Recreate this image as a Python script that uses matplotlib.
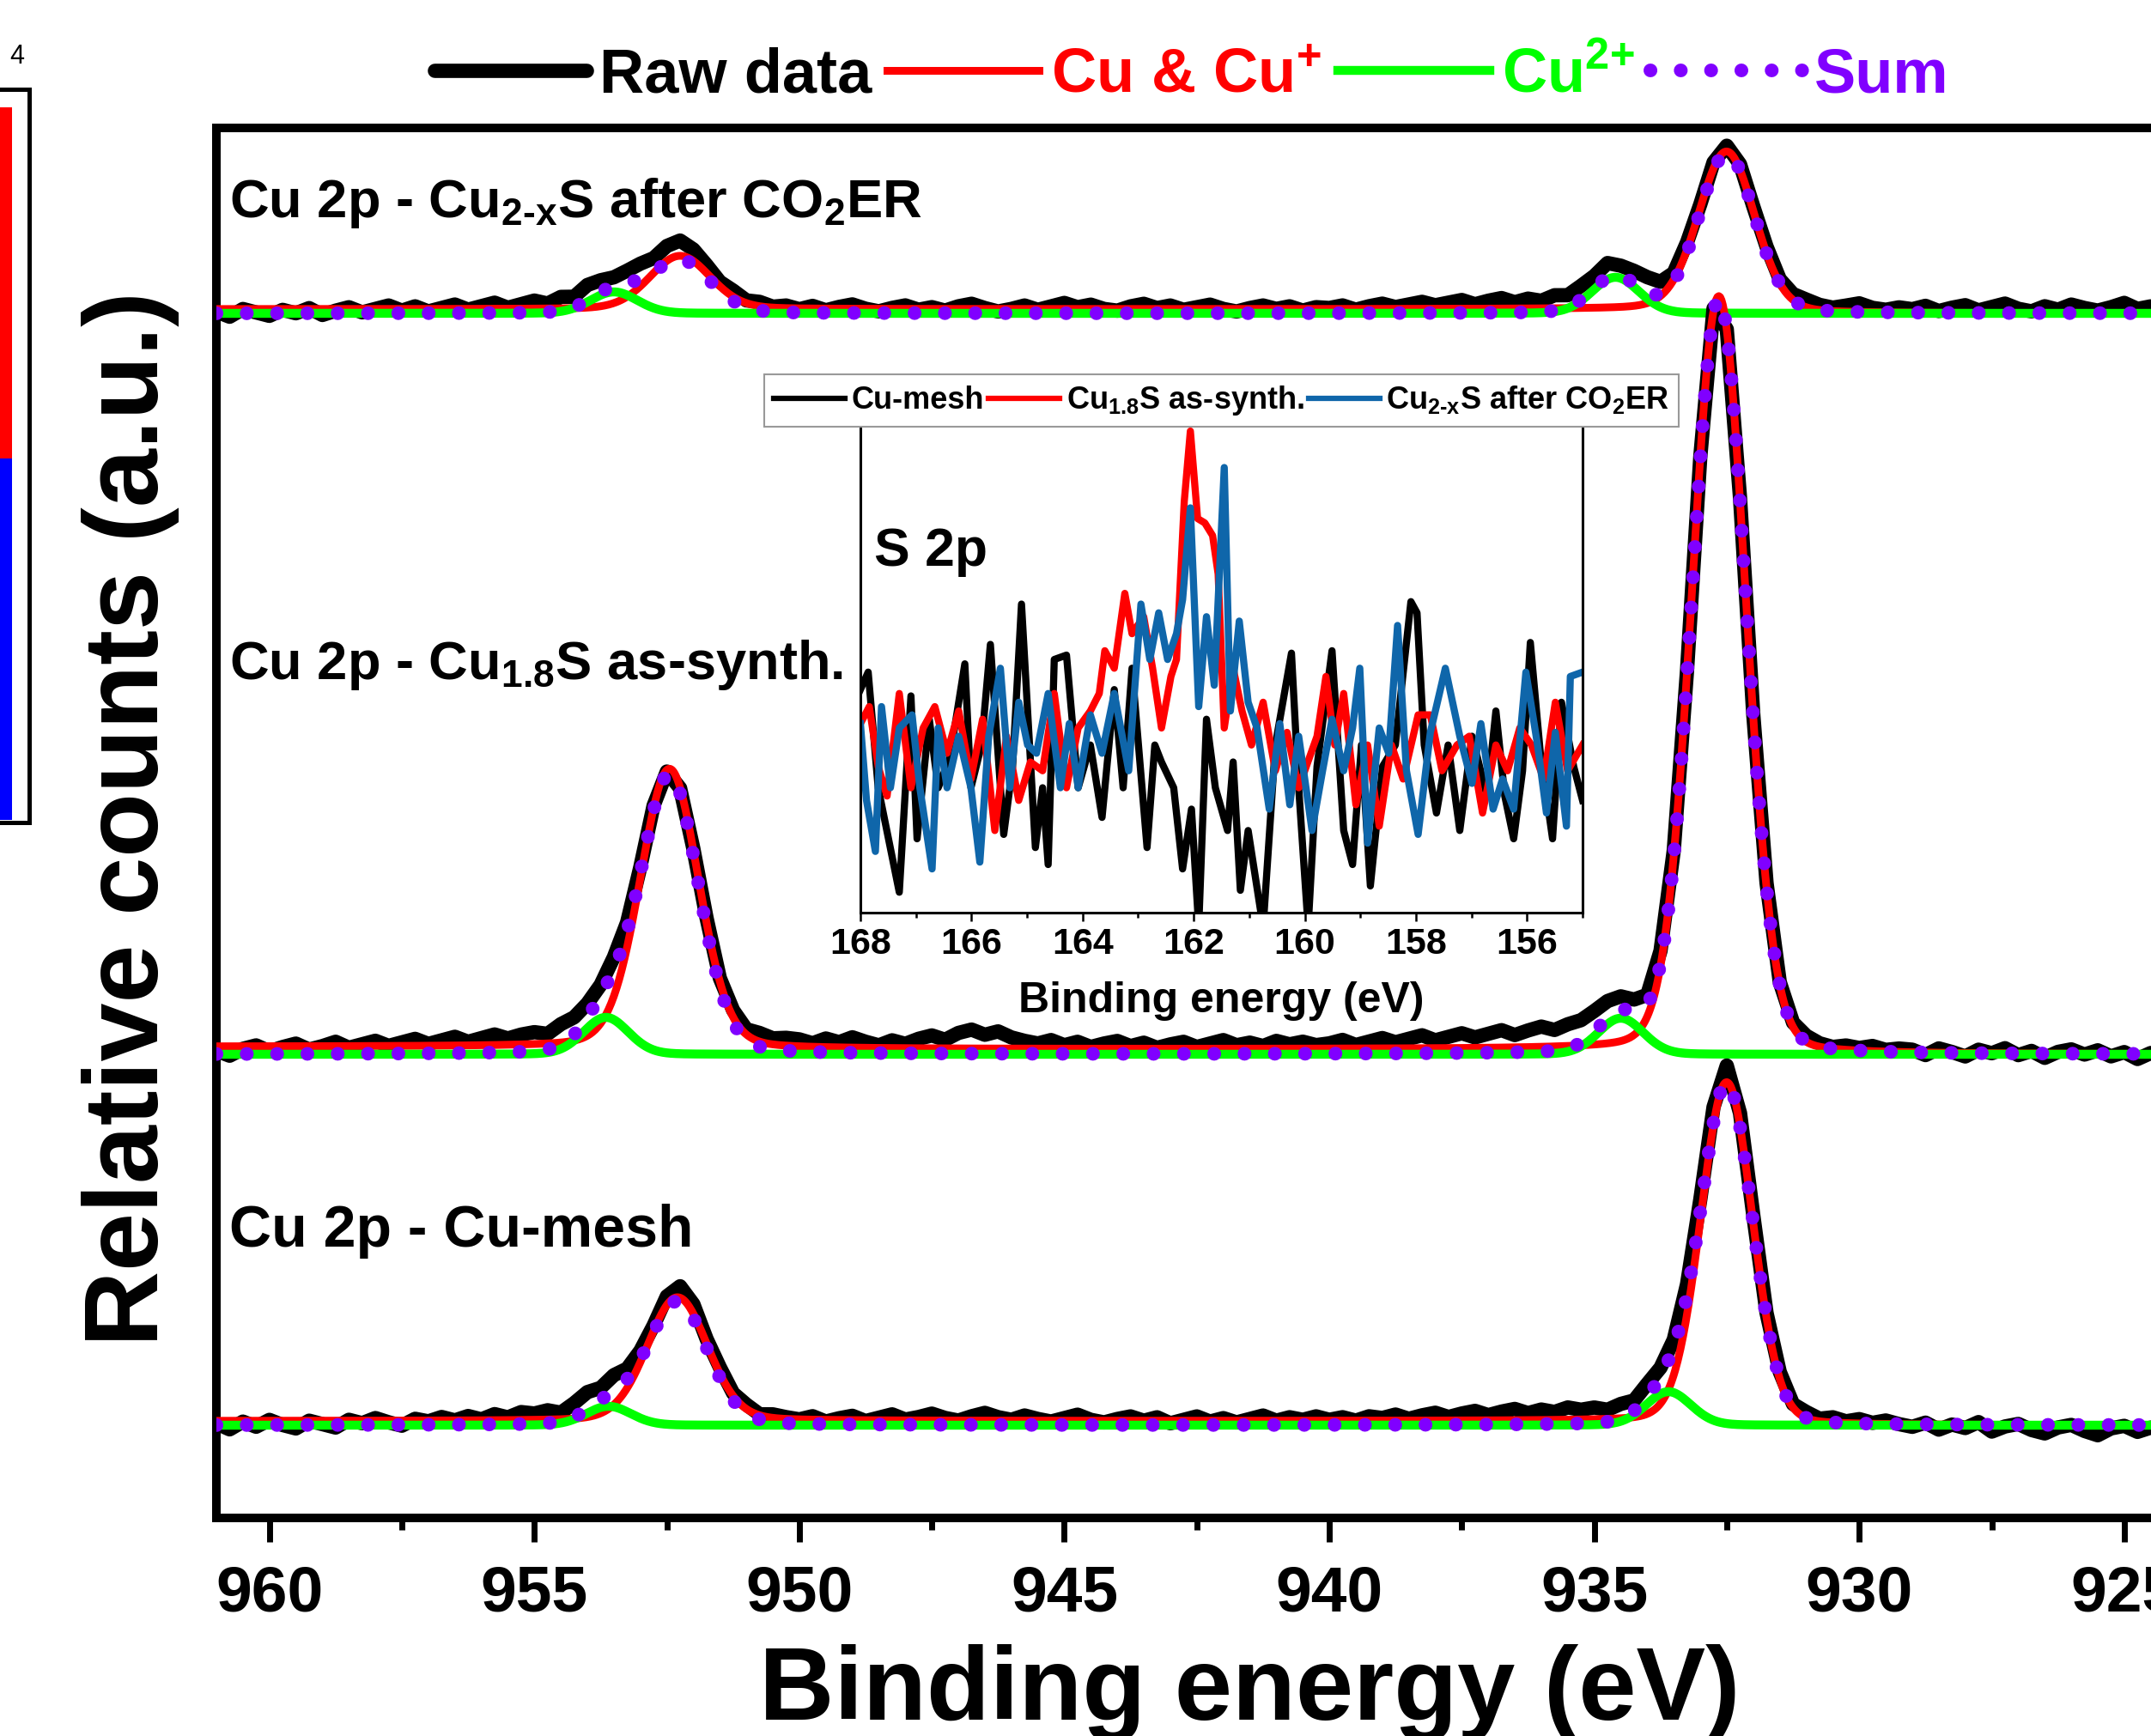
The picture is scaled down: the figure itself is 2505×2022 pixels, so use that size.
import numpy as np
import matplotlib
matplotlib.use('Agg')
import matplotlib.pyplot as plt
from matplotlib.ticker import MultipleLocator

plt.rcParams['font.family'] = ['Liberation Sans', 'DejaVu Sans']
plt.rcParams['font.weight'] = 'bold'
plt.rcParams['axes.labelweight'] = 'bold'
plt.rcParams['mathtext.fontset'] = 'custom'
plt.rcParams['mathtext.rm'] = 'Liberation Sans:bold'
plt.rcParams['mathtext.it'] = 'Liberation Sans:italic:bold'
plt.rcParams['mathtext.bf'] = 'Liberation Sans:bold'
plt.rcParams['mathtext.default'] = 'regular'

# ---------------- Cu 2p data (stacked, bottom -> top) ----------------
spec_labels = ['Cu 2p - Cu-mesh',
               'Cu 2p - Cu$_{1.8}$S as-synth.',
               'Cu 2p - Cu$_{2\\text{-}x}$S after CO$_2$ER']
spec_offset = [108, 540, 1403]

# fitted Cu & Cu+ components: center (eV), height, fwhm (eV), lorentz share
cu1_center = [[932.50, 952.30], [932.65, 952.45], [932.50, 952.25]]
cu1_height = [[397, 144], [880, 325], [186, 62]]
cu1_fwhm = [[1.15, 1.35], [1.20, 1.30], [1.25, 1.35]]
cu1_eta = [[0.10, 0.15], [0.10, 0.15], [0.15, 0.15]]
cu1_shirley = [[5, 0], [6, 3], [5, 0]]

# fitted Cu2+ components
cu2_center = [[933.60, 953.60], [934.50, 953.65], [934.60, 953.50]]
cu2_height = [[39, 22], [42, 43], [42, 25]]
cu2_fwhm = [[1.00, 1.00], [1.00, 1.00], [1.05, 1.05]]
cu2_eta = [[0.10, 0.10], [0.10, 0.10], [0.10, 0.10]]

# raw data = fit sum + residual, read every 0.25 eV from 961 to 924.5 eV
raw_energy = np.linspace(961.0, 924.5, 147)
raw_resid_mesh = [
    2, -5, 4, -2, 6, 0, -4, 5, 1, -3, 6, 2, 8, 3, -1, 7, 4, 9, 5, 10, 6, 12, 8, 14,
    12, 15, 10, 16, 20, 14, 18, 12, 10, 8, 14, 18,
    16, 10, 12, 8, 10, 6, 9, 7,
    5, 9, 3, 7, 10, 4, 8, 12, 6, 9, 13, 8, 5, 10, 14, 9, 6, 11, 7, 4,
    8, 12, 6, 3, 7, 10, 5, 9, 2, 6, 10, 4, 8, 3, 7, 11, 5, 9, 6, 10,
    6, 9, 5, 10, 8, 12, 7, 11, 14, 9, 13, 16, 11, 15, 18, 13, 17, 14, 19, 16,
    18, 14, 17, 12, 15, 10, 8, 12, 14, 18, 20, 16,
    10, 6, 8, 4, 7, 3, 6, 2, 5, 1, 4, 0,
    -3, 2, -6, 0, -4, 3, -8, -2, 1, -6, -10, -3, 0, -7, -12, -4, -1, -8, -3]
raw_resid_synth = [
    4, -2, 6, 10, 3, 8, 12, 5, 9, 14, 7, 11, 15, 9, 13, 17, 11, 15, 19, 13, 17, 21, 16, 20,
    22, 18, 24, 20, 16, 12, 14, 10, 8, 6, 4, 6,
    8, 12, 10, 14, 12, 16, 13, 15,
    14, 10, 16, 12, 18, 13, 9, 15, 11, 17, 21, 16, 24, 28, 22, 26, 19, 15, 12, 16,
    10, 14, 8, 12, 15, 9, 13, 7, 11, 14, 8, 12, 16, 10, 13, 9, 15, 11, 14, 10,
    12, 16, 10, 14, 18, 13, 17, 21, 15, 19, 23, 18, 22, 26, 20, 25, 29, 24, 28, 26,
    24, 20, 16, 12, 10, 14, 8, 6, 4, 6, 3, 5,
    4, 6, 3, 5, 7, 4, 2, 5, 3, 6, 2, 4,
    3, -3, 5, 1, -4, 4, 0, 6, -2, 3, -5, 2, 5, -1, 4, -3, 2, -6, 1]
raw_resid_after = [
    2, -4, 5, 1, -3, 4, 0, 6, -2, 3, 7, 1, 5, 9, 3, 8, 2, 6, 10, 4, 8, 12, 6, 10,
    14, 10, 16, 12, 18, 14, 10, 14, 18, 16, 20, 22,
    18, 14, 10, 12, 8, 10, 6, 8,
    4, 8, 3, 7, 10, 5, 2, 6, 9, 4, 7, 3, 8, 11, 6, 2, 5, 9, 4, 8,
    12, 7, 10, 5, 3, 8, 11, 6, 9, 4, 7, 10, 5, 2, 6, 9, 5, 8, 3, 7,
    6, 9, 4, 8, 11, 7, 10, 13, 9, 12, 15, 10, 14, 17, 12, 16, 13, 18, 14, 16,
    14, 17, 12, 15, 18, 14, 10, 12, 8, 10, 9, 8,
    6, 8, 5, 7, 9, 6, 4, 7, 10, 5, 3, 6,
    4, 8, 2, 6, 9, 3, 7, 11, 5, 2, 8, 4, 10, 6, 3, 7, 12, 5, 8]
raw_resid = [raw_resid_mesh, raw_resid_synth, raw_resid_after]

# ---------------- S 2p inset data (digitised vertices) ----------------
s2p_mesh_e = [168.00, 167.86, 167.68, 167.30, 167.09, 166.98, 166.76, 166.60, 166.39, 166.12,
              166.01, 165.82, 165.66, 165.42, 165.26, 165.10, 164.85, 164.72, 164.62, 164.51,
              164.29, 164.08, 163.86, 163.65, 163.43, 163.27, 163.11, 162.84, 162.70, 162.58,
              162.36, 162.20, 162.04, 161.91, 161.77, 161.61, 161.39, 161.29, 161.16, 161.02,
              160.75, 160.53, 160.24, 160.11, 159.94, 159.78, 159.51, 159.30, 159.14, 158.98,
              158.82, 158.60, 158.37, 158.09, 157.98, 157.85, 157.63, 157.42, 157.21, 156.99,
              156.72, 156.56, 156.40, 156.24, 156.08, 155.94, 155.76, 155.54, 155.38, 155.16,
              155.00]
s2p_mesh_i = [45.9, 49.5, 25.7, 4.2, 44.6, 15.2, 39.8, 25.7, 31.9, 51.2,
              25.7, 34.5, 55.2, 16.1, 30.1, 63.5, 13.4, 25.7, 9.9, 52.1,
              53.0, 25.7, 34.5, 19.6, 45.9, 25.7, 50.3, 13.4, 34.5, 31.0,
              25.7, 9.0, 21.3, -3.0, 39.8, 25.7, 16.9, 31.0, 4.6, 16.9,
              -3.0, 34.5, 53.4, 25.7, -3.0, 30.1, 53.9, 16.9, 9.9, 34.5,
              5.5, 30.1, 34.5, 64.0, 61.7, 34.5, 20.5, 34.5, 16.9, 36.3,
              24.0, 41.5, 24.0, 15.2, 29.2, 55.6, 32.8, 15.2, 43.3, 30.1,
              23.1]
s2p_synth_e = [168.00, 167.84, 167.68, 167.52, 167.30, 167.09, 166.87, 166.66, 166.44, 166.23,
               166.01, 165.80, 165.58, 165.37, 165.15, 164.94, 164.72, 164.51, 164.29, 164.08,
               163.86, 163.70, 163.60, 163.43, 163.24, 163.11, 162.90, 162.74, 162.58, 162.41,
               162.31, 162.17, 162.06, 161.93, 161.80, 161.66, 161.56, 161.45, 161.29, 161.13,
               160.96, 160.75, 160.53, 160.32, 160.11, 159.78, 159.62, 159.46, 159.30, 159.08,
               158.87, 158.66, 158.44, 158.23, 157.96, 157.74, 157.53, 157.26, 157.04, 156.80,
               156.56, 156.35, 156.13, 155.92, 155.70, 155.49, 155.27, 155.00]
s2p_synth_i = [38.9, 42.4, 30.1, 24.0, 45.1, 25.7, 38.0, 42.4, 32.8, 41.5,
               27.5, 39.8, 16.9, 36.3, 23.1, 31.0, 29.2, 45.1, 25.7, 38.0,
               41.5, 45.1, 53.9, 50.3, 65.7, 57.4, 60.9, 50.3, 38.0, 48.6,
               52.1, 84.6, 99.1, 81.1, 80.2, 77.6, 69.7, 38.0, 50.3, 41.5,
               34.5, 43.3, 29.2, 37.1, 25.7, 36.3, 48.6, 34.5, 45.1, 22.2,
               34.5, 17.8, 34.5, 27.5, 40.7, 40.7, 29.2, 34.5, 36.3, 20.5,
               34.5, 29.2, 38.0, 34.5, 27.5, 43.3, 29.2, 34.5]
s2p_after_e = [168.00, 167.89, 167.73, 167.62, 167.46, 167.30, 167.07, 166.93, 166.71, 166.60,
               166.44, 166.23, 166.01, 165.85, 165.69, 165.48, 165.31, 165.15, 164.99, 164.83,
               164.62, 164.40, 164.24, 164.08, 163.86, 163.65, 163.43, 163.17, 162.95, 162.79,
               162.63, 162.47, 162.31, 162.20, 162.06, 161.91, 161.77, 161.63, 161.45, 161.34,
               161.18, 161.02, 160.86, 160.64, 160.45, 160.27, 160.11, 159.87, 159.68, 159.51,
               159.30, 159.14, 159.01, 158.87, 158.66, 158.49, 158.33, 158.17, 157.96, 157.74,
               157.47, 157.21, 156.99, 156.83, 156.61, 156.44, 156.24, 156.02, 155.81, 155.65,
               155.49, 155.29, 155.22, 155.00]
s2p_after_i = [38.9, 23.1, 12.6, 42.4, 25.7, 38.0, 40.7, 25.7, 9.0, 38.0,
               25.7, 36.3, 25.7, 10.4, 36.3, 50.3, 25.7, 43.3, 34.5, 32.8,
               45.1, 25.7, 38.9, 25.7, 40.7, 32.8, 45.1, 29.2, 63.5, 52.1,
               61.7, 52.1, 57.4, 64.4, 83.3, 42.4, 60.9, 46.8, 91.6, 41.5,
               60.0, 43.3, 38.0, 21.3, 38.9, 22.2, 36.3, 16.9, 29.2, 39.8,
               29.2, 38.0, 50.3, 14.3, 38.0, 32.8, 59.1, 29.2, 16.1, 37.1,
               50.3, 36.3, 26.6, 38.9, 21.3, 27.5, 21.3, 49.5, 34.5, 20.5,
               37.1, 17.8, 48.6, 49.5]
s2p_names = ['Cu-mesh', 'Cu$_{1.8}$S as-synth.', 'Cu$_{2\\text{-}x}$S after CO$_2$ER']

RED = '#FF0000'
GREEN = '#00FF00'
PURPLE = '#8000FF'
BLUE = '#0F66AA'


def pseudo_voigt(e, c, h, w, eta):
    d = (e - c) / w
    return h * ((1 - eta) * np.exp(-4 * np.log(2) * d ** 2) + eta / (1 + 4 * d ** 2))


fig = plt.figure(figsize=(25.05, 20.22), dpi=100)

# piece of the neighbouring panel that is cut by the left border
ax_side = fig.add_axes([-0.1198, 0.5262, 0.1335, 0.4226])
ax_side.axhspan(0.496, 0.975, xmax=0.94, color='#FF0000', lw=0)
ax_side.axhspan(0.004, 0.496, xmax=0.94, color='#0000FF', lw=0)
ax_side.set_xlim(0, 1)
ax_side.set_ylim(0, 1)
ax_side.set_xticks([])
ax_side.set_yticks([])
for sp in ax_side.spines.values():
    sp.set_linewidth(3.6)
fig.text(0.0044, 0.9635, '4', ha='left', va='baseline', fontsize=22,
         fontweight='normal')

# ---------------- main axes ----------------
ax = fig.add_axes([252 / 2505, 1 - 1768 / 2022, 2407 / 2505, 1619 / 2022])
e_fit = np.linspace(961.0, 922.0, 1561)

handles = None
for k in range(3):
    base = spec_offset[k]
    z = 10 - 3 * k
    red = np.full_like(e_fit, base, dtype=float)
    peaks = np.zeros_like(e_fit)
    peaks_raw = np.zeros_like(raw_energy)
    for c, h, w, eta, s in zip(cu1_center[k], cu1_height[k], cu1_fwhm[k],
                               cu1_eta[k], cu1_shirley[k]):
        p = pseudo_voigt(e_fit, c, h, w, eta)
        # Shirley-type step: share of peak area at lower binding energy
        cum = np.cumsum(p[::-1])[::-1]
        red += p + s * cum / cum[0]
        peaks += p
        peaks_raw += pseudo_voigt(raw_energy, c, h, w, eta)
    green = np.full_like(e_fit, base, dtype=float)
    for c, h, w, eta in zip(cu2_center[k], cu2_height[k], cu2_fwhm[k], cu2_eta[k]):
        p = pseudo_voigt(e_fit, c, h, w, eta)
        green += p
        peaks += p
        peaks_raw += pseudo_voigt(raw_energy, c, h, w, eta)
    total = base + peaks
    raw = base + peaks_raw + np.array(raw_resid[k], dtype=float)

    l_raw, = ax.plot(raw_energy, raw, color='black', lw=12, zorder=z,
                     solid_joinstyle='round', solid_capstyle='round')
    l_red, = ax.plot(e_fit, red, color=RED, lw=6.5, zorder=z + 0.1)
    l_green, = ax.plot(e_fit, green, color=GREEN, lw=7.5, zorder=z + 0.2)
    l_sum, = ax.plot(e_fit, total, color=PURPLE, lw=11.5, zorder=z + 0.3,
                     linestyle=(0, (0.01, 2.2)), dash_capstyle='round')
    if handles is None:
        handles = [l_raw, l_red, l_green, l_sum]

label_y = [316, 977, 1515]
label_size = [49, 45.5, 45.5]
for k in range(3):
    ax.text(960.75, label_y[k], spec_labels[k], fontsize=label_size[k],
            va='baseline', zorder=20)

ax.set_xlim(961, 922)
ax.set_ylim(0, 1619)
ax.set_yticks([])
ax.xaxis.set_major_locator(MultipleLocator(5))
ax.xaxis.set_minor_locator(MultipleLocator(2.5))
ax.tick_params(axis='x', which='major', direction='out', length=20, width=5,
               labelsize=54, pad=19)
ax.tick_params(axis='x', which='minor', direction='out', length=10, width=5)
for sp in ax.spines.values():
    sp.set_linewidth(7.2)
ax.set_xlabel('Binding energy (eV)', fontsize=87, labelpad=17)
fig.text(152 / 2505, 1 - 954 / 2022, 'Relative counts (a.u.)', rotation=90,
         ha='center', va='center', fontsize=88)

leg = fig.legend(handles, ['Raw data', 'Cu & Cu$^{+}$', 'Cu$^{\\text{2+}}$', 'Sum'],
                 loc='center', bbox_to_anchor=(1388 / 2505, 1 - 88 / 2022),
                 ncol=4, frameon=False, fontsize=52, handlelength=2.45,
                 handletextpad=0.2, columnspacing=0.25, borderpad=0)
for t, c in zip(leg.get_texts(), ['black', RED, GREEN, PURPLE]):
    t.set_color(c)

# ---------------- S 2p inset ----------------
ax_in = fig.add_axes([1002 / 2505, 1 - 1063 / 2022, 841 / 2505, 566 / 2022])
ax_in.patch.set_alpha(0)
l1, = ax_in.plot(s2p_mesh_e, s2p_mesh_i, color='black', lw=6)
l2, = ax_in.plot(s2p_synth_e, s2p_synth_i, color=RED, lw=6)
l3, = ax_in.plot(s2p_after_e, s2p_after_i, color=BLUE, lw=6)
ax_in.set_xlim(168, 155)
ax_in.set_ylim(0, 100)
ax_in.set_yticks([])
ax_in.xaxis.set_major_locator(MultipleLocator(2))
ax_in.xaxis.set_minor_locator(MultipleLocator(1))
ax_in.tick_params(axis='x', which='major', direction='out', length=7, width=1.8,
                  labelsize=31, pad=5)
ax_in.tick_params(axis='x', which='minor', direction='out', length=4, width=1.8)
for sp in ax_in.spines.values():
    sp.set_linewidth(2.2)
ax_in.spines['top'].set_visible(False)
ax_in.set_xlabel('Binding energy (eV)', fontsize=36, labelpad=16.5)
ax_in.text(0.019, 0.714, 'S 2p', transform=ax_in.transAxes, fontsize=45, va='baseline')
leg_in = ax_in.legend([l1, l2, l3], s2p_names, loc='lower center',
                      bbox_to_anchor=(0.5, 1.0), ncol=3, fontsize=26,
                      handlelength=2.3, handletextpad=0.2, columnspacing=0.15,
                      borderpad=0.3, borderaxespad=0, fancybox=False, framealpha=1)
leg_in.get_frame().set_edgecolor('#999999')
leg_in.get_frame().set_linewidth(1.5)
for ln in leg_in.get_lines():
    ln.set_linewidth(4.5)

fig.savefig('out.png', dpi=100, facecolor='white')
